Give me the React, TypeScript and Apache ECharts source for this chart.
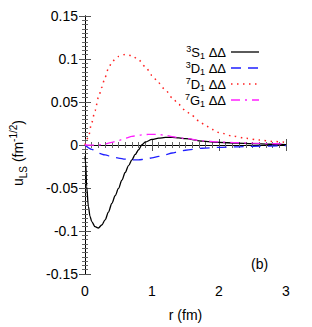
import React, { useEffect, useRef } from "react";
import * as echarts from "echarts";

const rS1 = [0, 0.01, 0.025, 0.05, 0.075, 0.1, 0.15, 0.2, 0.25, 0.3, 0.35, 0.4, 0.45, 0.5, 0.55, 0.6, 0.65, 0.7, 0.75, 0.8, 0.85, 0.9, 1.0, 1.1, 1.2, 1.3, 1.4, 1.5, 1.75, 2.0, 2.25, 2.5, 2.75, 3.0];
const vS1 = [-0.013, -0.021, -0.048, -0.071, -0.083, -0.089, -0.095, -0.0965, -0.093, -0.087, -0.078, -0.068, -0.059, -0.0505, -0.041, -0.032, -0.024, -0.0172, -0.011, -0.0055, 0.0003, 0.0035, 0.0065, 0.008, 0.0088, 0.009, 0.0083, 0.0073, 0.0045, 0.003, 0.0022, 0.0015, 0.0009, 0.0004];

const rD1 = [0, 0.1, 0.2, 0.3, 0.4, 0.5, 0.6, 0.7, 0.8, 0.9, 1.0, 1.1, 1.2, 1.3, 1.4, 1.5, 1.75, 2.0, 2.25, 2.5, 2.75, 3.0];
const vD1 = [0, -0.005, -0.0095, -0.0115, -0.0135, -0.0152, -0.0165, -0.0172, -0.0172, -0.0165, -0.015, -0.0132, -0.0112, -0.0093, -0.0076, -0.0061, -0.0038, -0.0027, -0.0021, -0.0016, -0.0012, -0.0008];

const r7D1 = [0, 0.05, 0.1, 0.15, 0.2, 0.25, 0.3, 0.35, 0.4, 0.45, 0.5, 0.6, 0.7, 0.8, 0.9, 1.0, 1.1, 1.2, 1.3, 1.4, 1.5, 1.6, 1.7, 1.8, 1.9, 2.0, 2.2, 2.4, 2.6, 2.8, 3.0];
const v7D1 = [0, 0.009, 0.026, 0.04, 0.055, 0.067, 0.079, 0.089, 0.096, 0.1, 0.103, 0.1053, 0.104, 0.099, 0.091, 0.081, 0.072, 0.064, 0.055, 0.047, 0.04, 0.034, 0.028, 0.0225, 0.018, 0.0145, 0.0105, 0.0078, 0.0057, 0.0042, 0.003];

const r7G1 = [0, 0.1, 0.2, 0.3, 0.4, 0.5, 0.6, 0.7, 0.8, 0.9, 1.0, 1.1, 1.2, 1.3, 1.4, 1.5, 1.75, 2.0, 2.25, 2.5, 2.75, 3.0];
const v7G1 = [0, -0.0002, 0, 0.0012, 0.003, 0.0053, 0.0078, 0.01, 0.0115, 0.0122, 0.0124, 0.0121, 0.0112, 0.0098, 0.0085, 0.0075, 0.0049, 0.0036, 0.0027, 0.0021, 0.0016, 0.0012];

const seriesNames = ["3S1", "3D1", "7D1", "7G1"];
const legendLabels = [
  "{sup|3}{n|S}{sub|1}{n| ΔΔ}",
  "{sup|3}{n|D}{sub|1}{n| ΔΔ}",
  "{sup|7}{n|D}{sub|1}{n| ΔΔ}",
  "{sup|7}{n|G}{sub|1}{n| ΔΔ}",
];
const seriesColors = ["#000000", "#1f1fff", "#ff2020", "#ff20ff"];
const seriesDash: (number[] | null)[] = [null, [10, 7], [1.5, 4.5], [9, 5, 2, 5]];
const xTicks = [0, 1, 2, 3];
const yRange = [-0.15, 0.15];

const FONT = "Liberation Sans, Arial, Helvetica, sans-serif";

function pairs(r: number[], v: number[]) {
  return r.map((x, i) => [x, v[i]]);
}

export default function App() {
  const ref = useRef<HTMLDivElement>(null);
  useEffect(() => {
    if (!ref.current) return;
    const chart = echarts.init(ref.current, null, { renderer: "svg" });
    const axisCommon = {
      axisLine: { show: true, lineStyle: { color: "#000", width: 1 } },
      axisTick: { show: true, inside: true, length: 6, lineStyle: { color: "#555" } },
      minorTick: { show: true, splitNumber: 10, length: 3, lineStyle: { color: "#666" } },
      splitLine: { show: false },
    };
    const richLegend = {
      n: { fontSize: 13, fontFamily: FONT, color: "#000", lineHeight: 16 },
      sup: { fontSize: 9, fontFamily: FONT, color: "#000", verticalAlign: "top", lineHeight: 16 },
      sub: { fontSize: 9, fontFamily: FONT, color: "#000", verticalAlign: "bottom", lineHeight: 16 },
    };
    const legendGraphics: any[] = [];
    seriesNames.forEach((_, i) => {
      const cy = 52 + i * 16;
      legendGraphics.push({
        type: "text",
        x: 226,
        y: cy,
        style: {
          text: legendLabels[i],
          align: "right",
          verticalAlign: "middle",
          fontFamily: FONT,
          fontSize: 13,
          fill: "#000",
          rich: richLegend,
        },
      });
      legendGraphics.push({
        type: "line",
        shape: { x1: 231, y1: cy, x2: 259, y2: cy },
        style: {
          stroke: seriesColors[i],
          lineWidth: i === 2 ? 1.5 : 1.3,
          lineDash: seriesDash[i] || undefined,
        },
      });
    });
    chart.setOption({
      animation: false,
      backgroundColor: "#fff",
      grid: { left: 79, right: 26, top: 16, bottom: 47, containLabel: false },
      xAxis: [
        {
          type: "value",
          min: xTicks[0],
          max: xTicks[xTicks.length - 1],
          interval: 1,
          position: "bottom",
          ...axisCommon,
          axisLabel: { show: true, color: "#000", fontSize: 14, fontFamily: FONT, margin: 10 },
          name: "r (fm)",
          nameLocation: "middle",
          nameGap: 34,
          nameTextStyle: { color: "#000", fontSize: 14, fontFamily: FONT },
        },
        {
          type: "value",
          min: xTicks[0],
          max: xTicks[xTicks.length - 1],
          interval: 1,
          position: "top",
          ...axisCommon,
          axisLabel: { show: false },
        },
      ],
      yAxis: [
        {
          type: "value",
          min: yRange[0],
          max: yRange[1],
          interval: 0.05,
          position: "left",
          ...axisCommon,
          axisLabel: {
            show: true,
            color: "#000",
            fontSize: 14,
            fontFamily: FONT,
            margin: 7,
            formatter: (v: number) => String(Math.round(v * 100) / 100),
          },
          name: "{n|u}{sub|LS}{n| (fm}{sup|-1/2}{n|)}",
          nameLocation: "middle",
          nameRotate: 90,
          nameGap: 57,
          nameTextStyle: {
            color: "#000",
            fontSize: 14,
            fontFamily: FONT,
            padding: [0, 16, 0, 0],
            rich: {
              n: { fontSize: 14, fontFamily: FONT, color: "#000", lineHeight: 20 },
              sub: { fontSize: 10, fontFamily: FONT, color: "#000", verticalAlign: "bottom", lineHeight: 20 },
              sup: { fontSize: 10, fontFamily: FONT, color: "#000", verticalAlign: "top", lineHeight: 20 },
            },
          },
        },
        {
          type: "value",
          min: yRange[0],
          max: yRange[1],
          interval: 0.05,
          position: "right",
          ...axisCommon,
          axisLabel: { show: false },
        },
      ],
      graphic: [
        ...legendGraphics,
        {
          type: "text",
          x: 251,
          y: 264,
          style: { text: "(b)", fontSize: 14, fontFamily: FONT, fill: "#000", verticalAlign: "middle", align: "left" },
        },
      ],
      series: seriesNames.map((name, i) => {
        const data =
          i === 0 ? pairs(rS1, vS1) : i === 1 ? pairs(rD1, vD1) : i === 2 ? pairs(r7D1, v7D1) : pairs(r7G1, v7G1);
        return {
          name,
          type: "line",
          data,
          symbol: "none",
          smooth: 0.3,
          smoothMonotone: "x",
          lineStyle: {
            color: seriesColors[i],
            width: i === 2 ? 1.5 : 1.3,
            type: seriesDash[i] || "solid",
          },
          itemStyle: { color: seriesColors[i] },
        };
      }),
    });
    return () => chart.dispose();
  }, []);
  return (
    <div
      ref={ref}
      style={{ position: "fixed", left: 0, top: 0, width: 312, height: 327, background: "#fff" }}
    />
  );
}
